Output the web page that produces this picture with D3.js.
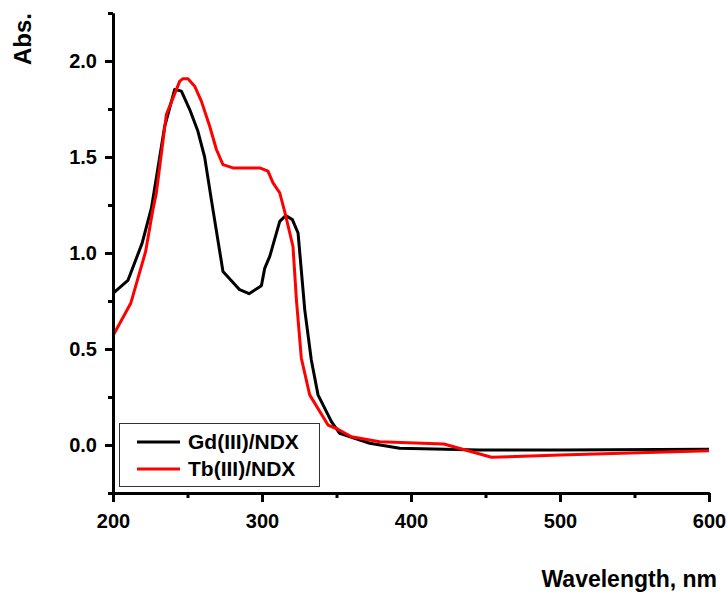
<!DOCTYPE html>
<html>
<head>
<meta charset="utf-8">
<script src="https://cdn.jsdelivr.net/npm/d3@7"></script>
<style>
  html, body { margin: 0; padding: 0; background: #fff; }
  svg { display: block; }
  text { font-family: Arial, "Liberation Sans", sans-serif; font-weight: bold; fill: #000; }
</style>
</head>
<body>
<svg id="chart" width="727" height="593"></svg>
<script>
// ---- Data ----
const gdWavelength = [200, 210, 219.5, 225.8, 234.7, 241.4, 245.9, 251.5, 257, 261.5, 266, 273.8, 285, 291.3, 299.6, 301.8, 305.2, 311.9, 315.9, 320.4, 324.2, 328.7, 333.1, 337.6, 346.6, 352.1, 372.3, 392.4, 446, 500, 600];
const gdAbs        = [0.79, 0.857, 1.05, 1.235, 1.66, 1.852, 1.843, 1.747, 1.634, 1.50, 1.278, 0.904, 0.809, 0.788, 0.829, 0.92, 0.982, 1.165, 1.195, 1.174, 1.104, 0.704, 0.443, 0.261, 0.122, 0.061, 0.009, -0.017, -0.026, -0.026, -0.022];

const tbWavelength = [200, 212, 221.9, 226.8, 229.1, 235.8, 244.8, 247, 250.3, 254.8, 259.3, 264.9, 269.4, 273.8, 280.5, 298.5, 304, 307.4, 311.9, 315.2, 320.8, 323.1, 326.4, 332, 344.3, 351, 360, 379, 422, 454, 500, 600];
const tbAbs        = [0.569, 0.74, 1.008, 1.226, 1.313, 1.721, 1.895, 1.908, 1.908, 1.869, 1.791, 1.66, 1.539, 1.46, 1.443, 1.443, 1.426, 1.365, 1.313, 1.217, 1.034, 0.756, 0.452, 0.261, 0.104, 0.082, 0.043, 0.017, 0.005, -0.064, -0.052, -0.03];

const seriesNames  = ["Gd(III)/NDX", "Tb(III)/NDX"];
const seriesColors = ["#000000", "#ff0000"];

const xMajorTicks = [200, 300, 400, 500, 600];
const xMinorTicks = [250, 350, 450, 550];
const yMajorTicks = [0.0, 0.5, 1.0, 1.5, 2.0];
const yMinorTicks = [-0.25, 0.25, 0.75, 1.25, 1.75, 2.25];

const xTitle = "Wavelength, nm";
const yTitle = "Abs.";

// ---- Layout ----
const svg = d3.select("#chart");
const plotLeft = 113, plotRight = 709, plotTop = 13, plotBottom = 493;

const x = d3.scaleLinear().domain([200, 600]).range([plotLeft, plotRight]);
const y = d3.scaleLinear().domain([-0.25, 2.25]).range([plotBottom, plotTop]);

// ---- Curves ----
const series = [
  gdWavelength.map((w, i) => [w, gdAbs[i]]),
  tbWavelength.map((w, i) => [w, tbAbs[i]])
];
const line = d3.line().x(d => x(d[0])).y(d => y(d[1]));

series.forEach((s, i) => {
  svg.append("path")
    .datum(s)
    .attr("d", line)
    .attr("fill", "none")
    .attr("stroke", seriesColors[i])
    .attr("stroke-width", 3)
    .attr("stroke-linejoin", "round");
});

// ---- Axes ----
const xAxis = svg.append("g").attr("transform", `translate(0,${plotBottom})`)
  .call(d3.axisBottom(x).tickValues(xMajorTicks).tickFormat(d3.format("d")).tickSize(9).tickPadding(12).tickSizeOuter(0));
const xMinor = svg.append("g").attr("transform", `translate(0,${plotBottom})`)
  .call(d3.axisBottom(x).tickValues(xMinorTicks).tickFormat("").tickSize(5).tickSizeOuter(0));

const yAxis = svg.append("g").attr("transform", `translate(${plotLeft},0)`)
  .call(d3.axisLeft(y).tickValues(yMajorTicks).tickFormat(d3.format(".1f")).tickSize(8).tickPadding(8).tickSizeOuter(0));
const yMinor = svg.append("g").attr("transform", `translate(${plotLeft},0)`)
  .call(d3.axisLeft(y).tickValues(yMinorTicks).tickFormat("").tickSize(5).tickSizeOuter(0));

[xAxis, xMinor, yAxis, yMinor].forEach(g => {
  g.select(".domain").attr("stroke", "#000").attr("stroke-width", 3);
  g.selectAll(".tick line").attr("stroke", "#000").attr("stroke-width", 3);
  g.selectAll(".tick text")
    .attr("font-family", "Arial, 'Liberation Sans', sans-serif")
    .attr("font-weight", "bold")
    .attr("font-size", 20)
    .attr("fill", "#000");
});
xAxis.selectAll(".tick text").attr("dy", "0.71em");

// ---- Axis titles ----
svg.append("text")
  .attr("x", 717).attr("y", 587)
  .attr("text-anchor", "end")
  .attr("font-size", 23)
  .text(xTitle);

svg.append("text")
  .attr("transform", "translate(31,65) rotate(-90)")
  .attr("text-anchor", "start")
  .attr("font-size", 24)
  .text(yTitle);

// ---- Legend ----
const legend = svg.append("g");
legend.append("rect")
  .attr("x", 119.5).attr("y", 423.5).attr("width", 200).attr("height", 63)
  .attr("fill", "#fff").attr("stroke", "#333").attr("stroke-width", 1);
const legendY = [442, 469];
seriesNames.forEach((name, i) => {
  legend.append("line")
    .attr("x1", 137).attr("x2", 180)
    .attr("y1", legendY[i]).attr("y2", legendY[i])
    .attr("stroke", seriesColors[i]).attr("stroke-width", 3);
  legend.append("text")
    .attr("x", 188).attr("y", legendY[i] + 7)
    .attr("font-size", 21)
    .text(name);
});
</script>
</body>
</html>
